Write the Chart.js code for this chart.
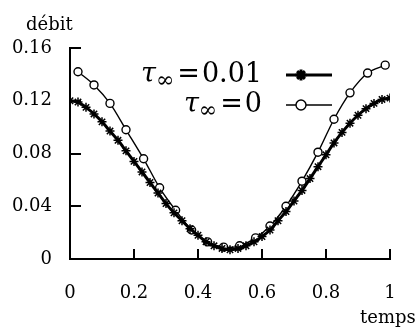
<!DOCTYPE html>
<html>
<head>
<meta charset="utf-8">
<script src="https://cdn.jsdelivr.net/npm/chart.js@4.4.1/dist/chart.umd.min.js"></script>
<style>
  html, body { margin: 0; padding: 0; background: #fff; }
  #wrap { width: 420px; height: 329px; position: relative; }
</style>
</head>
<body>
<div id="wrap"><canvas id="chart" width="420" height="329"></canvas></div>
<script>
// tau_inf = 0.01 (stars)
const xStar = [0, 0.025, 0.05, 0.075, 0.1, 0.125, 0.15, 0.175, 0.2, 0.225,
               0.25, 0.275, 0.3, 0.325, 0.35, 0.375, 0.4, 0.425, 0.45, 0.475,
               0.5, 0.525, 0.55, 0.575, 0.6, 0.625, 0.65, 0.675, 0.7, 0.725,
               0.75, 0.775, 0.8, 0.825, 0.85, 0.875, 0.9, 0.925, 0.95, 0.975, 1];
const yStar = [0.120, 0.119, 0.115, 0.110, 0.104, 0.097, 0.090, 0.082, 0.074, 0.066,
               0.058, 0.050, 0.042, 0.035, 0.029, 0.023, 0.018, 0.013, 0.010, 0.008,
               0.007, 0.008, 0.010, 0.013, 0.017, 0.022, 0.029, 0.036, 0.044, 0.052,
               0.061, 0.070, 0.079, 0.088, 0.096, 0.103, 0.109, 0.114, 0.118, 0.121, 0.122];

// tau_inf = 0 (circles)
const xCirc = [0.025, 0.075, 0.125, 0.175, 0.23, 0.28, 0.33, 0.38, 0.43, 0.48,
               0.53, 0.58, 0.625, 0.675, 0.725, 0.775, 0.825, 0.875, 0.93, 0.985];
const yCirc = [0.142, 0.132, 0.118, 0.098, 0.076, 0.054, 0.037, 0.022, 0.013, 0.009,
               0.010, 0.016, 0.025, 0.040, 0.059, 0.081, 0.106, 0.126, 0.141, 0.147];

const xTicks = [0, 0.2, 0.4, 0.6, 0.8, 1];
const xTickLabels = ['0', '0.2', '0.4', '0.6', '0.8', '1'];
const yTicks = [0, 0.04, 0.08, 0.12, 0.16];
const yTickLabels = ['0', '0.04', '0.08', '0.12', '0.16'];

const SERIF = '"DejaVu Serif", "Liberation Serif", serif';

function pts(xs, ys) {
    return xs.map((x, i) => ({ x: x, y: ys[i] }));
}

// ticks pointing inward + axis names
const innerTicks = {
    id: 'innerTicks',
    afterDraw(chart) {
        const ctx = chart.ctx;
        const a = chart.chartArea;
        const xs = chart.scales.x, ys = chart.scales.y;
        ctx.save();
        ctx.strokeStyle = '#000';
        ctx.lineWidth = 2;
        ctx.beginPath();
        yTicks.forEach(v => {
            const y = Math.round(ys.getPixelForValue(v));
            ctx.moveTo(a.left, y);
            ctx.lineTo(a.left + 11, y);
        });
        xTicks.forEach(v => {
            const x = Math.round(xs.getPixelForValue(v));
            ctx.moveTo(x, a.bottom);
            ctx.lineTo(x, a.bottom - 10);
        });
        ctx.stroke();

        ctx.fillStyle = '#000';
        ctx.font = '18px ' + SERIF;
        ctx.textBaseline = 'alphabetic';
        ctx.textAlign = 'left';
        ctx.fillText('débit', 26, 30);
        ctx.fillText('temps', 360, 323);
        ctx.restore();
    }
};

// legend: label on the left, sample line on the right
const sideLegend = {
    id: 'sideLegend',
    afterDraw(chart) {
        const ctx = chart.ctx;
        const rows = [
            { val: '0.01', y: 75, ds: chart.data.datasets[0] },
            { val: '0', y: 105, ds: chart.data.datasets[1] }
        ];
        const rightEdge = 262;
        ctx.save();
        ctx.fillStyle = '#000';
        ctx.textBaseline = 'middle';
        rows.forEach(r => {
            const fMain = '27px ' + SERIF;
            const fTau = 'italic 27px ' + SERIF;
            const fSub = '22px ' + SERIF;
            ctx.font = fMain;
            const wVal = ctx.measureText(r.val).width;
            const wEq = ctx.measureText('=').width;
            ctx.font = fSub;
            const wInf = ctx.measureText('∞').width;
            ctx.font = fTau;
            const wTau = ctx.measureText('τ').width;
            let x = rightEdge - (wTau + wInf + wEq + wVal + 5);
            ctx.textAlign = 'left';
            ctx.font = fTau;
            ctx.fillText('τ', x, r.y);
            x += wTau;
            ctx.font = fSub;
            ctx.fillText('∞', x, r.y + 6);
            x += wInf + 3;
            ctx.font = fMain;
            ctx.fillText('=', x, r.y);
            x += wEq + 2;
            ctx.fillText(r.val, x, r.y);

            // sample
            ctx.strokeStyle = '#000';
            ctx.lineWidth = r.ds.borderWidth;
            ctx.beginPath();
            ctx.moveTo(286, r.y);
            ctx.lineTo(332, r.y);
            ctx.stroke();
            ctx.fillStyle = r.ds.pointBackgroundColor || '#000';
            Chart.helpers.drawPoint(ctx, {
                pointStyle: r.ds.pointStyle,
                radius: r.ds.pointRadius + 1,
                borderWidth: r.ds.pointBorderWidth
            }, 301, r.y);
            ctx.fillStyle = '#000';
        });
        ctx.restore();
    }
};

new Chart('chart', {
    type: 'line',
    data: {
        datasets: [
            {
                label: 'tau=0.01',
                data: pts(xStar, yStar),
                borderColor: '#000',
                backgroundColor: '#000',
                borderWidth: 3,
                pointStyle: 'star',
                pointRadius: 4.5,
                pointBorderWidth: 1.5,
                pointBorderColor: '#000',
                tension: 0.3
            },
            {
                label: 'tau=0',
                data: pts(xCirc, yCirc),
                borderColor: '#000',
                backgroundColor: '#fff',
                borderWidth: 1.4,
                pointStyle: 'circle',
                pointRadius: 4,
                pointBorderWidth: 1.4,
                pointBorderColor: '#000',
                pointBackgroundColor: '#fff',
                tension: 0.3
            }
        ]
    },
    options: {
        responsive: false,
        animation: false,
        layout: {
            padding: { left: 0, right: 30, top: 48, bottom: 0 }
        },
        plugins: {
            legend: { display: false },
            tooltip: { enabled: false }
        },
        scales: {
            x: {
                type: 'linear',
                min: 0,
                max: 1,
                grid: { display: false, drawTicks: false },
                border: { display: true, color: '#000', width: 2 },
                afterBuildTicks: function(scale) {
                    scale.ticks = xTicks.map(v => ({ value: v }));
                },
                afterFit: function(scale) {
                    scale.height = 70;
                },
                ticks: {
                    color: '#000',
                    padding: 24,
                    maxRotation: 0,
                    font: { family: SERIF, size: 18 },
                    callback: function(value) {
                        const i = xTicks.indexOf(value);
                        return i >= 0 ? xTickLabels[i] : '';
                    }
                }
            },
            y: {
                type: 'linear',
                min: 0,
                max: 0.16,
                grid: { display: false, drawTicks: false },
                border: { display: true, color: '#000', width: 2 },
                afterBuildTicks: function(scale) {
                    scale.ticks = yTicks.map(v => ({ value: v }));
                },
                afterFit: function(scale) {
                    scale.width = 70;
                },
                ticks: {
                    color: '#000',
                    padding: 18,
                    font: { family: SERIF, size: 18 },
                    callback: function(value) {
                        const i = yTicks.indexOf(value);
                        return i >= 0 ? yTickLabels[i] : '';
                    }
                }
            }
        }
    },
    plugins: [innerTicks, sideLegend]
});
</script>
</body>
</html>
